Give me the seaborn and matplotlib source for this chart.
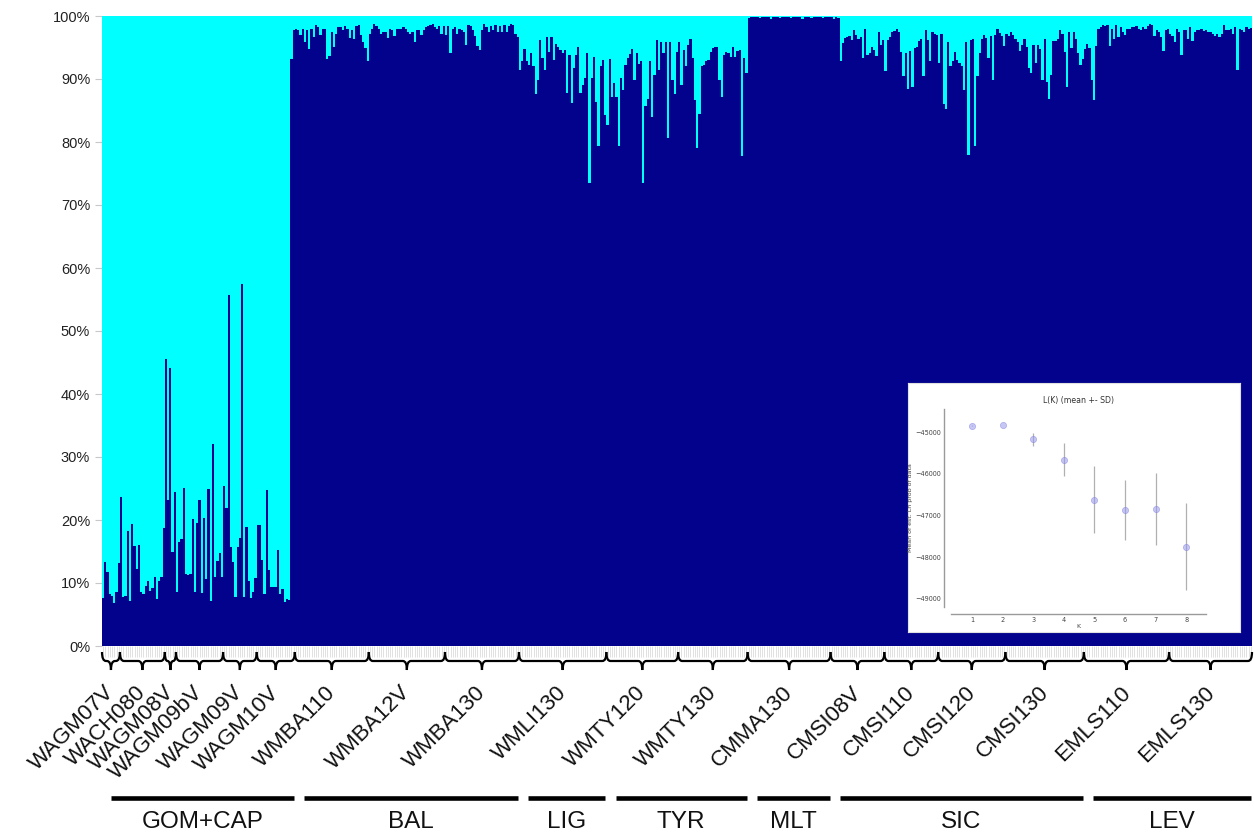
import numpy as np
import pandas as pd
import matplotlib
matplotlib.use("Agg")
import matplotlib.pyplot as plt
import matplotlib.transforms as mtransforms
from matplotlib.path import Path
from matplotlib.patches import PathPatch
import seaborn as sns

# ---------------- data: % membership in the dark (navy) cluster ----------------
WAGM07V = [7.6, 13.3, 11.7, 8.2, 8.0, 6.8, 8.5, 13.2]
WACH080 = [23.6, 7.8, 8.0, 18.3, 7.2, 19.4, 15.9, 12.2, 16.0, 8.5, 8.3, 9.5, 10.3, 8.8, 9.2,
           11.0, 7.5, 10.3, 11.0, 18.7]
WAGM08V = [45.6, 23.1, 44.1, 14.9, 24.4]
WAGM09bV = [8.5, 16.5, 17.0, 25.1, 11.5, 11.3, 11.4, 20.1, 8.5, 19.5, 23.2, 8.4, 20.3, 10.6,
            24.9, 7.2, 32.1, 11.0, 13.5, 14.7, 11.0]
WAGM09V = [25.4, 21.9, 55.7, 15.7, 13.3, 7.8, 15.7, 17.2, 57.4, 7.8, 18.9, 10.3, 7.6, 8.5, 10.8]
WAGM10V = [19.2, 19.2, 13.7, 8.2, 24.8, 12.0, 9.4, 9.4, 9.4, 15.2, 8.3, 9.0, 7.0, 7.5, 7.3,
           93.1, 97.7]
WMBA110 = [98.0, 97.8, 97.0, 98.0, 95.8, 97.8, 94.7, 97.9, 96.7, 98.6, 98.2, 97.0,
           98.0, 98.0, 93.1, 93.7, 97.4, 95.1, 97.2, 98.3, 98.3, 97.7, 98.4, 97.9, 96.5, 97.8,
           96.3, 98.4, 98.6, 97.0, 95.9, 94.9, 92.9]
WMBA12V = [97.2, 98.0, 98.7, 98.4, 98.0, 97.1, 97.4, 97.5, 96.5, 98.0, 97.8, 96.8, 98.0, 97.9,
           98.0, 98.2, 97.9, 97.5, 97.1, 97.5, 95.8, 97.7, 97.8, 97.0, 97.7, 98.3, 98.4, 98.6,
           98.7, 98.2, 98.0, 98.4, 97.2, 98.4]
WMBA130 = [97.0, 98.4, 94.1, 98.0, 98.3, 97.1, 98.0, 97.7, 97.4, 95.4, 98.6, 98.4, 97.8, 96.8,
           95.2, 94.6, 97.8, 98.7, 98.3, 97.5, 98.4, 97.8, 98.6, 97.4, 98.4, 97.5, 98.6, 97.5,
           98.4, 98.7, 98.6, 97.2, 96.7]
WMLI130 = [91.5, 92.8, 94.7, 92.8, 92.2, 94.1, 92.0, 87.6, 89.8, 96.2, 93.3, 91.5, 96.7, 94.3,
           96.6, 93.0, 95.6, 95.1, 94.6, 94.1, 94.6, 87.7, 93.8, 86.2, 91.7, 93.8, 95.1, 87.7,
           89.0, 90.1, 94.1, 73.5, 90.1, 93.5, 86.4, 79.4, 92.1, 93.0, 84.3]
WMTY120 = [82.7, 93.1, 87.2, 89.3, 87.1, 79.3, 90.1, 88.3, 92.2, 93.3, 94.0, 94.7, 89.8, 94.1,
           92.4, 92.8, 73.5, 85.7, 86.8, 92.8, 84.0, 90.6, 96.2, 91.4, 95.8, 94.1, 95.8, 80.6,
           95.8, 89.8, 87.6, 94.3]
WMTY130 = [95.9, 89.0, 94.6, 92.0, 95.4, 96.3, 93.4, 86.7, 79.0, 84.4, 92.1, 92.2, 92.9, 93.0,
           94.3, 94.9, 95.1, 95.1, 89.8, 87.2, 93.8, 94.3, 94.1, 93.5, 95.1, 93.5, 94.5, 94.6,
           77.7, 93.4, 90.9]
CMMA130 = [99.7, 99.8, 99.8, 99.9, 99.8, 99.7, 99.8, 99.9, 99.8, 99.8, 99.6, 99.8, 99.9, 99.8,
           99.7, 99.8, 99.8, 99.9, 99.8, 99.7, 99.8, 99.8, 99.9, 99.8, 99.6, 99.8, 99.8, 99.9,
           99.7, 99.8, 99.8, 99.9, 99.8, 99.7, 99.8, 99.8, 99.9]
CMSI08V = [99.8, 99.6, 99.8, 99.7,
           92.9, 95.7, 96.5, 96.6, 96.8, 96.2, 97.7, 97.0, 96.3, 96.7, 93.4, 97.9, 93.8, 94.2,
           95.1, 94.6, 93.7, 97.5, 95.4, 96.2]
CMSI110 = [91.2, 96.2, 96.7, 97.4, 97.6, 97.9, 97.5, 94.3, 90.5, 94.2, 88.4, 94.5, 88.7, 94.9,
           95.1, 96.0, 96.3, 90.5, 97.7, 96.2, 92.8, 97.5, 97.2, 97.0]
CMSI120 = [92.5, 97.2, 86.0, 85.3, 95.9, 92.1, 92.8, 94.3, 93.0, 92.5, 92.0, 88.3, 95.8, 77.9,
           96.2, 96.3, 79.3, 90.4, 94.1, 96.3, 97.0, 96.5, 93.4, 96.8, 89.8, 97.0, 97.9, 97.3,
           96.8, 95.2]
CMSI130 = [97.1, 96.8, 97.5, 97.0, 96.3, 95.9, 94.5, 95.4, 96.3, 95.1, 91.7, 91.0, 95.4, 92.5,
           95.4, 94.7, 89.8, 96.3, 89.6, 86.8, 90.6, 96.1, 96.1, 96.3, 97.8, 97.2, 94.3, 88.7,
           97.4, 94.9, 97.5, 96.3, 94.1, 92.2, 93.1]
EMLS110 = [94.7, 95.6, 95.0, 89.8, 86.7, 95.2,
           98.0, 98.3, 98.6, 98.4, 98.5, 95.2, 98.0, 96.3, 98.6, 96.6, 98.3, 97.4, 97.0, 97.9,
           98.0, 98.3, 98.2, 98.4, 97.9, 97.8, 98.2, 97.9, 98.4, 98.7, 98.5, 96.8, 97.8, 97.5,
           96.6, 94.5, 97.7, 97.9]
EMLS130 = [97.2, 96.8, 95.9, 97.9, 97.4, 93.8, 97.8, 97.7, 96.3, 98.3, 96.1, 97.5, 97.7, 97.8,
           97.9, 97.6, 97.7, 97.4, 97.5, 97.2, 96.8, 97.1, 96.6, 97.2, 98.6, 97.7, 97.8, 97.9,
           97.2, 98.2, 91.5, 98.0, 97.7, 97.4, 98.2, 97.9, 98.1]

pop_names = ["WAGM07V", "WACH080", "WAGM08V", "WAGM09bV", "WAGM09V", "WAGM10V",
             "WMBA110", "WMBA12V", "WMBA130", "WMLI130", "WMTY120", "WMTY130",
             "CMMA130", "CMSI08V", "CMSI110", "CMSI120", "CMSI130", "EMLS110", "EMLS130"]
pop_lists = [WAGM07V, WACH080, WAGM08V, WAGM09bV, WAGM09V, WAGM10V,
             WMBA110, WMBA12V, WMBA130, WMLI130, WMTY120, WMTY130,
             CMMA130, CMSI08V, CMSI110, CMSI120, CMSI130, EMLS110, EMLS130]
region_names = ["GOM+CAP", "BAL", "LIG", "TYR", "MLT", "SIC", "LEV"]
region_pop_counts = [6, 3, 1, 2, 1, 4, 2]

# inset: L(K) mean +- SD
K_values = [1, 2, 3, 4, 5, 6, 7, 8]
LnP_mean = [-44840, -44825, -45170, -45660, -46620, -46865, -46850, -47745]
LnP_sd = [15, 10, 150, 400, 800, 710, 865, 1045]

CYAN = "#00FFFF"
NAVY = "#02028C"

# ---------------- figure ----------------
sns.set_theme(style="white")
plt.rcParams["font.family"] = ["Liberation Sans", "DejaVu Sans"]

rows = []
for name, vals in zip(pop_names, pop_lists):
    for v in vals:
        rows.append((name, v))
df = pd.DataFrame(rows, columns=["pop", "navy"])
df["idx"] = np.arange(len(df))
df["total"] = 100.0
N = len(df)

W, H = 1254, 835
fig = plt.figure(figsize=(W / 100, H / 100), dpi=100)
ax_l, ax_r, ax_t, ax_b = 102, 1252, 16, 646
ax = fig.add_axes([ax_l / W, 1 - ax_b / H, (ax_r - ax_l) / W, (ax_b - ax_t) / H])

sns.barplot(data=df, x="idx", y="total", native_scale=True, color=CYAN, saturation=1,
            width=1, linewidth=0, errorbar=None, ax=ax)
sns.barplot(data=df, x="idx", y="navy", native_scale=True, color=NAVY, saturation=1,
            width=1, linewidth=0, errorbar=None, ax=ax)

ax.set_xlim(-0.5, N - 0.5)
ax.set_ylim(0, 100)
ax.set_xlabel("")
ax.set_ylabel("")
for sp in ax.spines.values():
    sp.set_visible(False)
ax.set_xticks(df["idx"])
ax.set_xticklabels([])
ax.tick_params(axis="x", bottom=True, length=8, width=0.5, color="#d5d5d5")
yt = list(range(0, 101, 10))
ax.set_yticks(yt)
ax.set_yticklabels([f"{v}%" for v in yt], fontsize=10.5, color="#222222")
ax.tick_params(axis="y", left=True, length=5, width=0.8, color="#c8c8c8", pad=3.5)

trans = mtransforms.blended_transform_factory(ax.transData, ax.transAxes)
pxb = (ax_r - ax_l) / N  # pixels per bar
ax_h = ax_b - ax_t


def ay(py):
    return (ax_b - py) / ax_h


# ---------------- braces + population labels ----------------
ytop, ymid, ybot = ay(652), ay(661), ay(670)
starts = []
pos = 0
for name, vals in zip(pop_names, pop_lists):
    s = pos - 0.5
    e = pos + len(vals) - 0.5
    starts.append(s)
    m = (s + e) / 2
    d = min(4.0 / pxb, (e - s) / 4)
    verts = [(s, ytop), (s, ymid), (s + d, ymid), (m - d, ymid), (m, ymid), (m, ybot),
             (m, ymid), (m + d, ymid), (e - d, ymid), (e, ymid), (e, ytop)]
    codes = [Path.MOVETO, Path.CURVE3, Path.CURVE3, Path.LINETO, Path.CURVE3, Path.CURVE3,
             Path.CURVE3, Path.CURVE3, Path.LINETO, Path.CURVE3, Path.CURVE3]
    ax.add_patch(PathPatch(Path(verts, codes), transform=trans, fill=False, lw=1.6,
                           edgecolor="black", clip_on=False))
    ax.text(m + 8.0 / pxb, ay(682), name, transform=trans, rotation=45, ha="right",
            va="top", fontsize=16, color="#111111", clip_on=False)
    pos += len(vals)
starts.append(pos - 0.5)

# ---------------- regions ----------------
pi = 0
for rname, cnt in zip(region_names, region_pop_counts):
    s = starts[pi]
    e = starts[pi + cnt]
    x0 = s + 9.5 / pxb
    x1 = e - 1.0 / pxb
    ax.plot([x0, x1], [ay(798), ay(798)], transform=trans, color="black", lw=3.3,
            solid_capstyle="butt", clip_on=False)
    ax.text((x0 + x1) / 2, ay(822), rname, transform=trans, ha="center", va="center",
            fontsize=17.5, color="#111111", clip_on=False)
    pi += cnt

# ---------------- inset ----------------
box = fig.add_axes([908 / W, 1 - 632 / H, 332 / W, 249 / H])
box.set_facecolor("white")
box.set_xticks([])
box.set_yticks([])
for sp in box.spines.values():
    sp.set_visible(True)
    sp.set_color("#e0e0e0")
    sp.set_linewidth(0.8)

ins = fig.add_axes([951 / W, 1 - 607 / H, 255 / W, 198 / H])
ins.patch.set_alpha(0)
ins.errorbar(K_values, LnP_mean, yerr=LnP_sd, fmt="none", ecolor="#b0b0b0", elinewidth=0.9)
sns.scatterplot(x=K_values, y=LnP_mean, ax=ins, color="#9999ee", alpha=0.55, s=20,
                edgecolor="#7777dd", linewidth=0.5, zorder=3)
ins.set_xlim(0.31, 8.65)
ins.set_ylim(-49192, -44442)
for side in ["top", "right"]:
    ins.spines[side].set_visible(False)
for side in ["left", "bottom"]:
    ins.spines[side].set_visible(True)
    ins.spines[side].set_color("#9a9a9a")
    ins.spines[side].set_linewidth(1.0)
    ins.spines[side].set_position(("outward", 5))
ins.set_xticks(K_values)
ins.set_xticklabels([str(k) for k in K_values], family="DejaVu Sans")
yts = [-49000, -48000, -47000, -46000, -45000]
ins.set_yticks(yts)
ins.set_yticklabels(["\u2212" + str(abs(v)) for v in yts], family="DejaVu Sans")
ins.tick_params(labelsize=4.7, length=0, colors="#444444", pad=2)
ins.set_title("L(K) (mean +- SD)", fontsize=5.6, color="#333333", pad=4, family="DejaVu Sans")
ins.set_xlabel("K", fontsize=4.5, color="#444444", labelpad=1, family="DejaVu Sans")
ins.set_ylabel("Mean of est. Ln prob of data", fontsize=4.5, color="#444444",
               family="DejaVu Sans")
ins.yaxis.set_label_coords((913 - 951) / 255, 0.5)

fig.savefig("out.png", dpi=100)
